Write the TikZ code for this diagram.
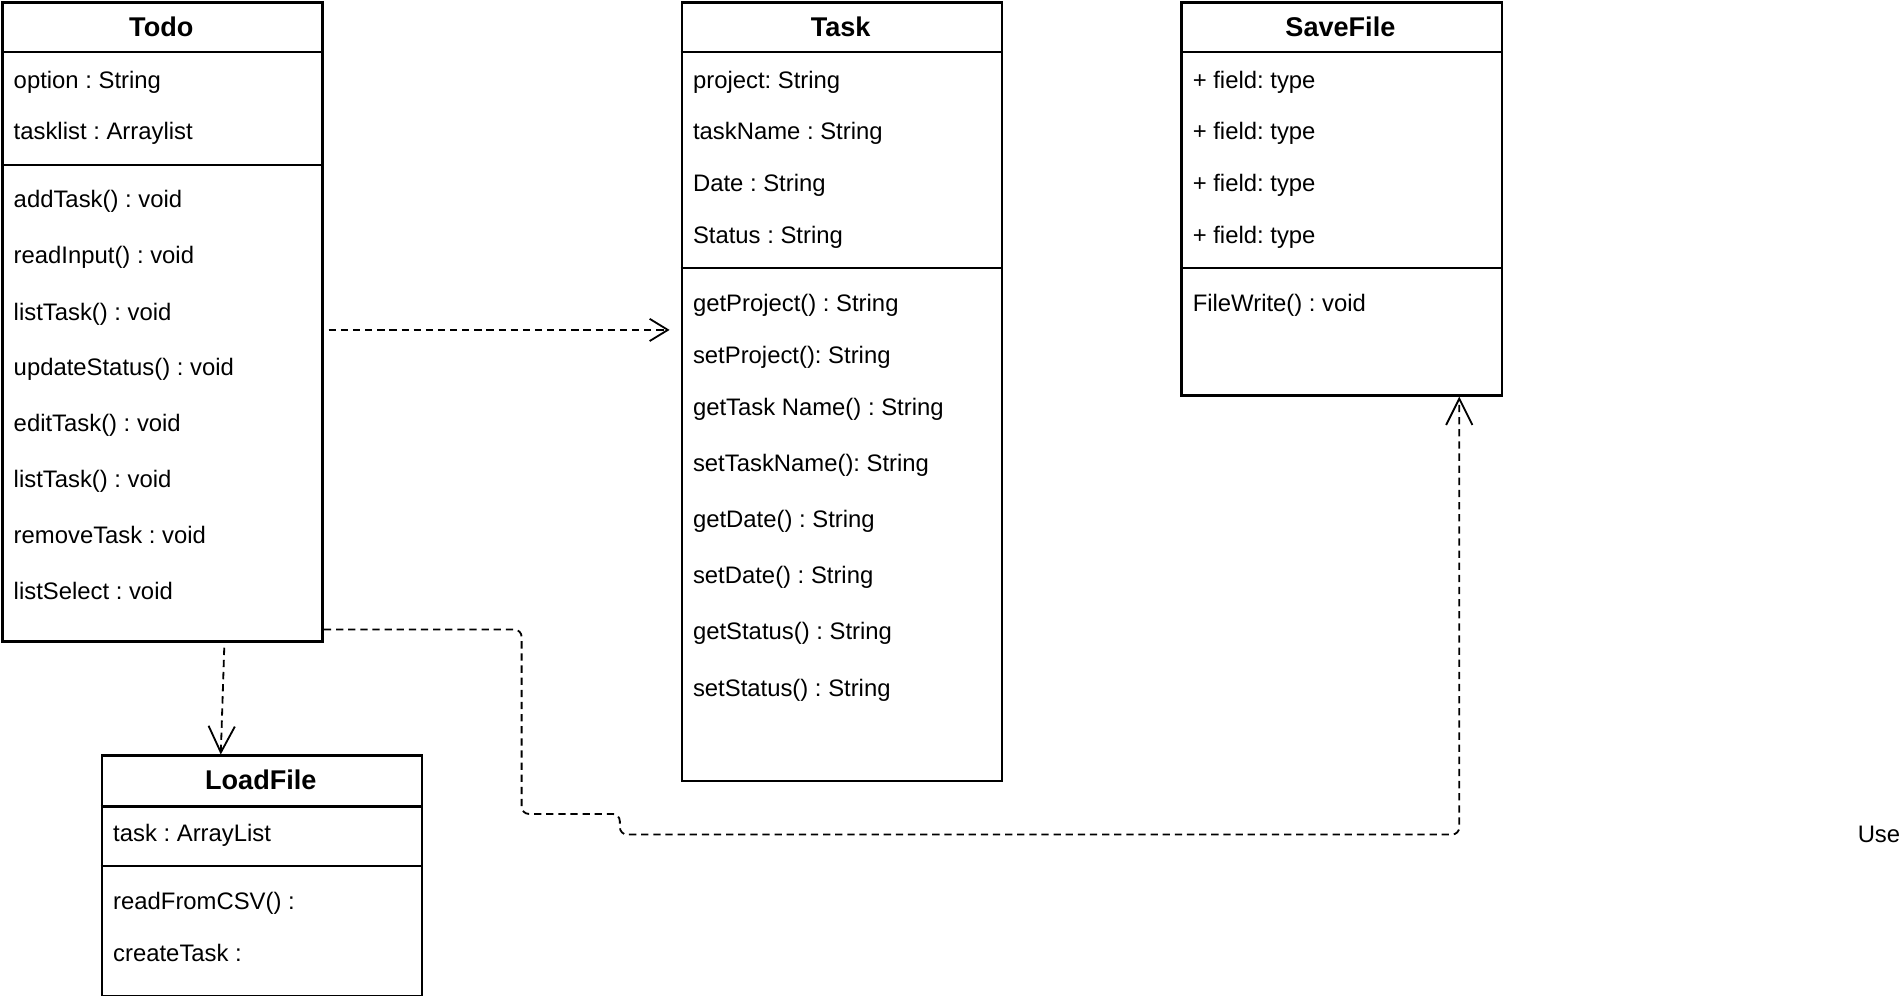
\documentclass[tikz,border=0pt]{standalone}
\usepackage{fontspec}
\setmainfont{Liberation Sans}
\usetikzlibrary{arrows.meta}
\frenchspacing

\begin{document}
\begin{tikzpicture}[x=0.6pt,y=-0.6pt,
every node/.style={font=\fontsize{11.8}{14}\selectfont},
classbox/.style={draw,line width=1.2pt,anchor=north west,inner sep=0pt,minimum width=158.4pt},
titlenode/.style={font=\fontsize{13.4}{16}\selectfont\bfseries,inner sep=0pt},
membernode/.style={anchor=west,inner sep=0pt,text height=9.8pt,text depth=1.5pt},
dependline/.style={line width=0.9pt,dash pattern=on 3.6pt off 2.4pt,-{Straight Barb[length=9pt,width=11pt]}},
useline/.style={line width=0.9pt,dash pattern=on 3.6pt off 2.4pt,-{Straight Barb[length=13pt,width=13pt]}}]

\useasboundingbox (0,0) rectangle (1568,821.1);

% Todo
\node [classbox,minimum height=316.2pt] (todo) at (1,1) {};
\draw [line width=1.2pt] (todo.north west) ++(0,42) -- ++(264,0);
\draw [line width=1.2pt] (todo.north west) ++(0,135) -- ++(264,0);
\node [titlenode] (todotitle) at (133,22) {Todo};
\node [membernode] (todo1) at (11,66) {option : String};
\node [membernode] (todo2) at (11,108) {tasklist : Arraylist};
\node [membernode] (todo3) at (11,164) {addTask() : void};
\node [membernode] (todo4) at (11,210) {readInput() : void};
\node [membernode] (todo5) at (11,257) {listTask() : void};
\node [membernode] (todo6) at (11,303) {updateStatus() : void};
\node [membernode] (todo7) at (11,349) {editTask() : void};
\node [membernode] (todo8) at (11,395) {listTask() : void};
\node [membernode] (todo9) at (11,441) {removeTask : void};
\node [membernode] (todo10) at (11,487) {listSelect : void};

% Task
\node [classbox,minimum height=385.2pt] (task) at (561,1) {};
\draw [line width=1.2pt] (task.north west) ++(0,42) -- ++(264,0);
\draw [line width=1.2pt] (task.north west) ++(0,220) -- ++(264,0);
\node [titlenode] (tasktitle) at (693,22) {Task};
\node [membernode] (task1) at (571,66) {project: String};
\node [membernode] (task2) at (571,108) {taskName : String};
\node [membernode] (task3) at (571,151) {Date : String};
\node [membernode] (task4) at (571,194) {Status : String};
\node [membernode] (task5) at (571,250) {getProject() : String};
\node [membernode] (task6) at (571,293) {setProject(): String};
\node [membernode] (task7) at (571,336) {getTask Name() : String};
\node [membernode] (task8) at (571,382) {setTaskName(): String};
\node [membernode] (task9) at (571,428) {getDate() : String};
\node [membernode] (task10) at (571,474) {setDate() : String};
\node [membernode] (task11) at (571,520) {getStatus() : String};
\node [membernode] (task12) at (571,567) {setStatus() : String};

% SaveFile
\node [classbox,minimum height=194.4pt] (savefile) at (973,1) {};
\draw [line width=1.2pt] (savefile.north west) ++(0,42) -- ++(264,0);
\draw [line width=1.2pt] (savefile.north west) ++(0,220) -- ++(264,0);
\node [titlenode] (savetitle) at (1105,22) {SaveFile};
\node [membernode] (save1) at (983,66) {+ field: type};
\node [membernode] (save2) at (983,108) {+ field: type};
\node [membernode] (save3) at (983,151) {+ field: type};
\node [membernode] (save4) at (983,194) {+ field: type};
\node [membernode] (save5) at (983,250) {FileWrite() : void};

% LoadFile
\node [classbox,minimum height=118.8pt] (loadfile) at (83,622) {};
\draw [line width=1.2pt] (loadfile.north west) ++(0,43) -- ++(264,0);
\draw [line width=1.2pt] (loadfile.north west) ++(0,92) -- ++(264,0);
\node [titlenode] (loadtitle) at (215,643) {LoadFile};
\node [membernode] (load1) at (93,687) {task : ArrayList};
\node [membernode] (load2) at (93,743) {readFromCSV() :};
\node [membernode] (load3) at (93,786) {createTask :};

% connectors
\coordinate (tt) at (0,272);
\draw [dependline,shorten <=2.4pt,shorten >=5.4pt] (todo.east |- tt) -- (task.west |- tt);

\coordinate (lf1) at (185,0);
\coordinate (lf2) at (182,0);
\draw [useline,shorten <=2.4pt] (todo.south -| lf1) -- (loadfile.north -| lf2);

\coordinate (sf0) at (0,519);
\coordinate (sf1) at (430,671);
\coordinate (sf2) at (511,688);
\coordinate (sf3) at (1203,0);
\draw [useline,rounded corners=3.6pt] (todo.east |- sf0) -| (sf1) -| (sf2) -| (savefile.south -| sf3);
\node [inner sep=0pt] (uselabel) at (1549,688) {Use};
\end{tikzpicture}
\end{document}
